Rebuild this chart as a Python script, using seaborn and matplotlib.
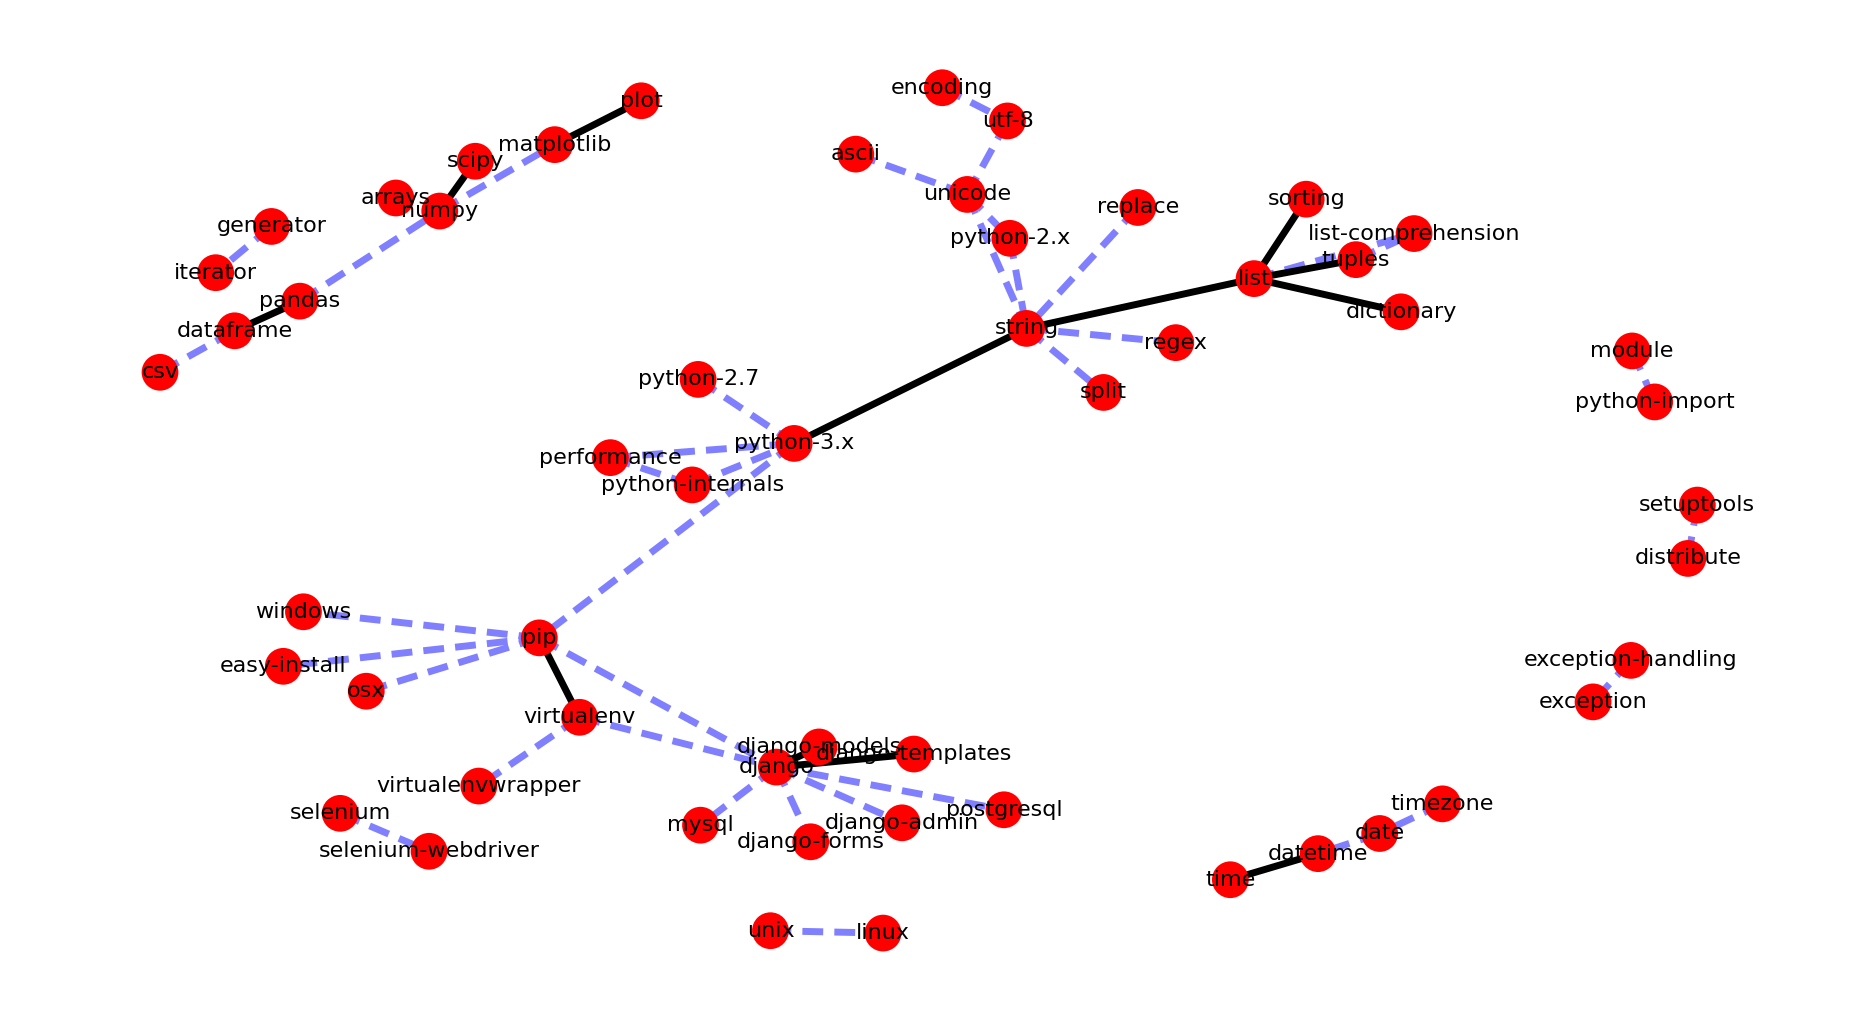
import matplotlib
matplotlib.use("Agg")
import matplotlib.pyplot as plt
import seaborn as sns
import pandas as pd

sns.set_style("white")
plt.rcParams['font.family'] = ['DejaVu Sans']

# node layout (x right, y down)
nodes = ["plot", "matplotlib", "scipy", "arrays", "numpy", "generator", "iterator",
         "pandas", "dataframe", "csv", "encoding", "utf-8", "ascii", "unicode",
         "python-2.x", "replace", "string", "regex", "split", "sorting",
         "list-comprehension", "tuples", "list", "dictionary", "module",
         "python-import", "setuptools", "distribute", "exception-handling",
         "exception", "python-2.7", "performance", "python-3.x", "python-internals",
         "windows", "pip", "easy-install", "osx", "virtualenv", "django-models",
         "django-templates", "django", "virtualenvwrapper", "selenium",
         "selenium-webdriver", "mysql", "django-forms", "django-admin", "postgresql",
         "timezone", "date", "datetime", "time", "unix", "linux"]
node_x = [541, 468, 401, 334, 371, 229, 182, 253, 198, 135, 795, 850, 722, 816,
          852, 960, 866, 992, 931, 1102, 1193, 1144, 1058, 1182, 1377, 1396, 1432,
          1424, 1376, 1344, 589, 515, 670, 584, 256, 455, 239, 309, 489, 691, 771,
          655, 404, 287, 362, 591, 684, 761, 847, 1217, 1164, 1112, 1038, 650, 745]
node_y = [85, 122, 136, 167, 178, 191, 230, 254, 279, 314, 74, 102, 130, 164, 201,
          175, 277, 289, 331, 168, 197, 219, 235, 263, 296, 339, 426, 471, 557, 592,
          320, 386, 374, 409, 516, 538, 562, 583, 605, 630, 636, 647, 663, 686, 718,
          696, 710, 694, 683, 678, 703, 720, 742, 785, 787]

strong_edges = [("plot", "matplotlib"), ("scipy", "numpy"), ("dataframe", "pandas"),
                ("string", "list"), ("list", "sorting"), ("list", "tuples"),
                ("list", "dictionary"), ("string", "python-3.x"), ("pip", "virtualenv"),
                ("django", "django-models"), ("django", "django-templates"),
                ("datetime", "time")]
weak_edges = [("pandas", "numpy"), ("numpy", "matplotlib"), ("csv", "dataframe"),
              ("generator", "iterator"), ("encoding", "utf-8"), ("utf-8", "unicode"),
              ("ascii", "unicode"), ("unicode", "string"), ("python-2.x", "string"),
              ("unicode", "python-2.x"), ("replace", "string"), ("string", "regex"),
              ("string", "split"), ("tuples", "list-comprehension"),
              ("list", "list-comprehension"), ("python-2.7", "python-3.x"),
              ("performance", "python-3.x"), ("performance", "python-internals"),
              ("python-internals", "python-3.x"), ("python-3.x", "pip"),
              ("pip", "windows"), ("pip", "easy-install"), ("pip", "osx"),
              ("pip", "django"), ("virtualenv", "django"),
              ("virtualenv", "virtualenvwrapper"), ("selenium", "selenium-webdriver"),
              ("django", "mysql"), ("django", "django-forms"), ("django", "django-admin"),
              ("django", "postgresql"), ("module", "python-import"),
              ("setuptools", "distribute"), ("exception-handling", "exception"),
              ("timezone", "date"), ("date", "datetime"), ("unix", "linux")]

df = pd.DataFrame({"node": nodes, "x": node_x, "y": node_y})
pos = {n: (x, y) for n, x, y in zip(nodes, node_x, node_y)}

fig = plt.figure(figsize=(18.55, 10.22), dpi=100)
ax = fig.add_axes([0, 0, 1, 1])

for a, b in weak_edges:
    ax.plot([pos[a][0], pos[b][0]], [pos[a][1], pos[b][1]], color=(0.5, 0.5, 1.0),
            lw=5, ls=(0, (3, 1.6)), zorder=1)
for a, b in strong_edges:
    ax.plot([pos[a][0], pos[b][0]], [pos[a][1], pos[b][1]], color="black", lw=5, zorder=2)

sns.scatterplot(data=df, x="x", y="y", s=700, color="red", edgecolor="none",
                ax=ax, zorder=3, legend=False)
for n, x, y in zip(nodes, node_x, node_y):
    ax.text(x, y, n, fontsize=16, ha="center", va="center", color="black", zorder=4)

ax.set_xlim(0, 1565)
ax.set_ylim(862, 0)
ax.axis("off")
fig.savefig("out.png", dpi=100)
